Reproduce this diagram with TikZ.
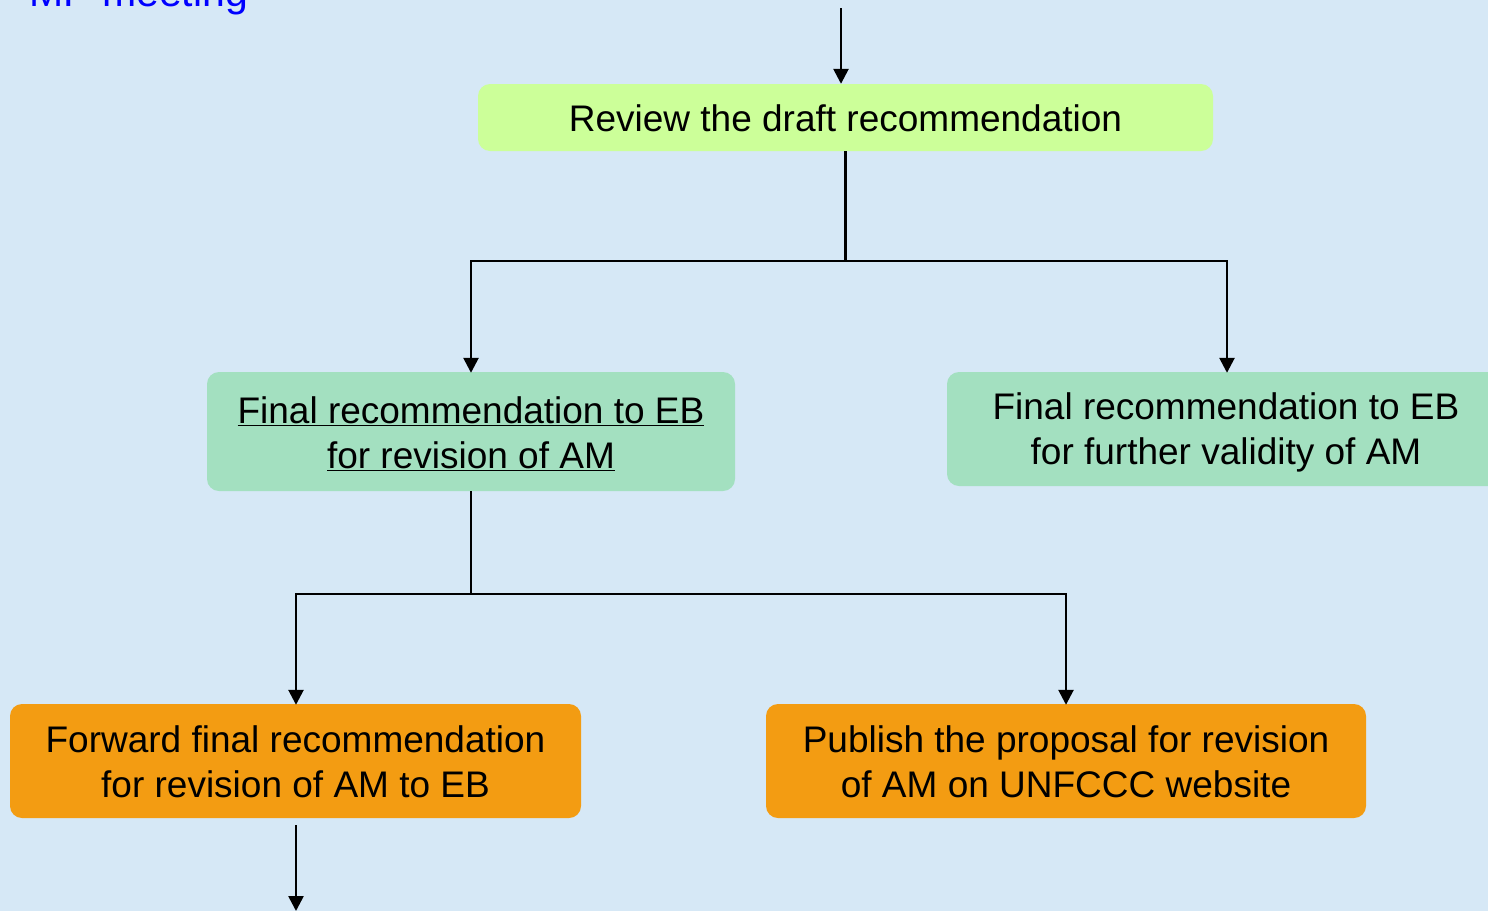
\documentclass[tikz,border=0pt]{standalone}
\usepackage{fontspec}
\setmainfont{Liberation Sans}
\usetikzlibrary{arrows.meta}
\definecolor{bgblue}{RGB}{214,232,246}
\definecolor{limeg}{RGB}{204,255,153}
\definecolor{mintg}{RGB}{163,224,192}
\definecolor{orng}{RGB}{243,156,18}
\definecolor{titleblue}{RGB}{0,0,255}
\tikzset{
  box/.style={rounded corners=12pt, draw=none, inner sep=0pt},
  boxtext/.style={align=center, inner sep=0pt, font=\fontsize{37}{45}\selectfont, text=black},
  conn/.style={line width=2.6pt, draw=black},
  arr/.style={conn, -{Triangle[width=15pt,length=15pt]}},
}
\begin{document}
\begin{tikzpicture}[x=1pt,y=-1pt]
\clip (0,0) rectangle (1488,911);
\fill[bgblue] (0,0) rectangle (1488,911);
\useasboundingbox (0,0) rectangle (1488,911);
\node[anchor=base west, text=titleblue, font=\fontsize{41}{49}\selectfont, inner sep=0pt] (title) at (29,6) {MP meeting};
\node[box, fill=limeg, minimum width=735pt, minimum height=67pt,
  label={[boxtext, yshift=-1pt]center:{Review the draft recommendation}}] (review) at (845.5,117.5) {};
\node[box, fill=mintg, minimum width=528pt, minimum height=119pt,
  label={[boxtext, yshift=-2pt]center:{\underline{Final recommendation to EB}\\\underline{for revision of AM}}}] (lg) at (471,431.5) {};
\node[box, fill=mintg, minimum width=558pt, minimum height=114pt,
  label={[boxtext, yshift=-3pt]center:{Final recommendation to EB\\for further validity of AM}}] (rg) at (1226,429) {};
\node[box, fill=orng, minimum width=571pt, minimum height=114pt,
  label={[boxtext, yshift=-1pt]center:{Forward final recommendation\\for revision of AM to EB}}] (lo) at (295.5,761) {};
\node[box, fill=orng, minimum width=600pt, minimum height=114pt,
  label={[boxtext, yshift=-1pt]center:{Publish the proposal for revision\\of AM on UNFCCC website}}] (ro) at (1066,761) {};
\coordinate (top) at (841,8);
\coordinate (j1) at (845.5,261);
\coordinate (j2) at (471,594);
\coordinate (bot) at (296,825);
\coordinate (botend) at (296,911);
\draw[arr] (top) -- (top |- review.north);
\draw[conn] (review.south) -- (j1);
\draw[arr] (j1) -| ([yshift=-1pt]lg.north);
\draw[arr] (j1) -| ([xshift=1pt,yshift=-1pt]rg.north);
\draw[conn] (lg.south) -- (j2);
\draw[arr] (j2) -| ([xshift=0.5pt,yshift=-1pt]lo.north);
\draw[arr] (j2) -| ([yshift=-1pt]ro.north);
\draw[arr] (bot) -- (botend);
\end{tikzpicture}
\end{document}
